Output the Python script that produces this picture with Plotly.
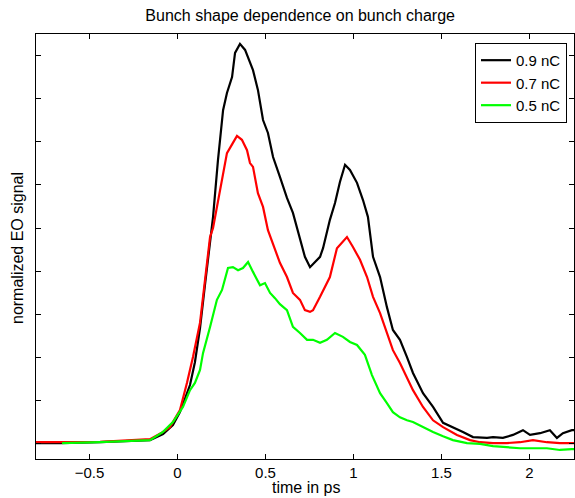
import plotly.graph_objects as go

# time axis (ps) and normalized EO signal for each bunch charge
t_09 = [-0.804, -0.668, -0.44, -0.27, -0.156, -0.082, -0.026, 0.014, 0.071, 0.099, 0.128, 0.156,
        0.185, 0.202, 0.23, 0.259, 0.281, 0.31, 0.327, 0.355, 0.384, 0.412, 0.429, 0.457, 0.486,
        0.514, 0.543, 0.582, 0.622, 0.656, 0.696, 0.724, 0.753, 0.77, 0.81, 0.827, 0.866, 0.895,
        0.923, 0.952, 0.98, 1.02, 1.054, 1.082, 1.111, 1.151, 1.19, 1.224, 1.264, 1.304, 1.338,
        1.395, 1.452, 1.509, 1.565, 1.622, 1.679, 1.759, 1.793, 1.849, 1.906, 1.963, 2.003, 2.06,
        2.116, 2.156, 2.19, 2.241, 2.26]
v_09 = [0.0, 0.0, 0.002, 0.004, 0.007, 0.021, 0.042, 0.072, 0.135, 0.188, 0.267, 0.367,
        0.472, 0.526, 0.658, 0.774, 0.814, 0.851, 0.907, 0.928, 0.914, 0.884, 0.867, 0.821, 0.751,
        0.721, 0.665, 0.619, 0.570, 0.535, 0.472, 0.433, 0.409, 0.416, 0.433, 0.453, 0.519, 0.558,
        0.607, 0.647, 0.635, 0.605, 0.565, 0.526, 0.433, 0.386, 0.316, 0.263, 0.240, 0.200, 0.163,
        0.116, 0.084, 0.047, 0.037, 0.026, 0.014, 0.012, 0.014, 0.012, 0.019, 0.030, 0.019, 0.023,
        0.030, 0.012, 0.023, 0.030, 0.030]

t_07 = [-0.804, -0.44, -0.156, -0.082, -0.043, 0.014, 0.054, 0.088, 0.128, 0.156, 0.185, 0.202,
        0.241, 0.281, 0.315, 0.338, 0.366, 0.395, 0.412, 0.429, 0.457, 0.486, 0.514, 0.582, 0.622,
        0.656, 0.696, 0.724, 0.753, 0.77, 0.81, 0.838, 0.866, 0.906, 0.935, 0.963, 0.997, 1.037,
        1.077, 1.111, 1.151, 1.19, 1.224, 1.264, 1.304, 1.338, 1.395, 1.452, 1.509, 1.588, 1.662,
        1.719, 1.793, 1.872, 1.946, 2.02, 2.099, 2.173, 2.241, 2.26]
v_07 = [0.002, 0.003, 0.009, 0.026, 0.037, 0.077, 0.140, 0.200, 0.280, 0.379, 0.479, 0.500,
        0.588, 0.674, 0.698, 0.714, 0.705, 0.681, 0.651, 0.642, 0.581, 0.549, 0.495, 0.419, 0.386,
        0.349, 0.333, 0.309, 0.305, 0.309, 0.340, 0.363, 0.386, 0.453, 0.465, 0.479, 0.456, 0.426,
        0.386, 0.340, 0.302, 0.256, 0.216, 0.186, 0.153, 0.123, 0.084, 0.053, 0.037, 0.019, 0.007,
        0.002, 0.0, 0.0, 0.002, 0.007, 0.002, 0.0, 0.0, 0.0]

t_05 = [-0.656, -0.44, -0.156, -0.082, -0.026, 0.031, 0.071, 0.099, 0.128, 0.145, 0.185, 0.224,
        0.253, 0.287, 0.315, 0.344, 0.372, 0.401, 0.429, 0.469, 0.497, 0.526, 0.554, 0.582, 0.622,
        0.656, 0.696, 0.736, 0.77, 0.81, 0.849, 0.895, 0.94, 0.98, 1.02, 1.065, 1.105, 1.151, 1.19,
        1.224, 1.264, 1.304, 1.338, 1.395, 1.452, 1.509, 1.565, 1.645, 1.719, 1.793, 1.872, 1.946,
        2.099, 2.173, 2.241, 2.26]
v_05 = [0.0, 0.002, 0.007, 0.026, 0.049, 0.084, 0.123, 0.140, 0.170, 0.209, 0.270, 0.333,
        0.356, 0.407, 0.409, 0.402, 0.407, 0.421, 0.398, 0.367, 0.372, 0.349, 0.337, 0.323, 0.309,
        0.270, 0.256, 0.240, 0.240, 0.233, 0.240, 0.256, 0.247, 0.235, 0.228, 0.205, 0.158, 0.116,
        0.093, 0.072, 0.060, 0.053, 0.049, 0.037, 0.026, 0.016, 0.007, 0.0, -0.002, -0.007, -0.009,
        -0.012, -0.012, -0.016, -0.014, -0.014]

series_names = ["0.9 nC", "0.7 nC", "0.5 nC"]
series_colors = ["#000000", "#ff0000", "#00ff00"]
x_tickvals = [-0.5, 0, 0.5, 1, 1.5, 2]
x_ticktext = ["\u22120.5", "0", "0.5", "1", "1.5", "2"]
y_tickvals = [0, 0.1, 0.2, 0.3, 0.4, 0.5, 0.6, 0.7, 0.8, 0.9]

FONT = "Liberation Sans, Arial, Helvetica, sans-serif"

fig = go.Figure()
for (tx, vy), name, col in zip([(t_09, v_09), (t_07, v_07), (t_05, v_05)], series_names, series_colors):
    fig.add_trace(go.Scatter(x=tx, y=vy, mode="lines", name=name,
                             line=dict(color=col, width=2.2)))

axis_common = dict(showgrid=False, zeroline=False, showline=True, linecolor="black",
                   linewidth=1, mirror="ticks", ticks="inside", ticklen=5,
                   tickcolor="black", tickwidth=1)

fig.update_layout(
    width=575, height=498,
    margin=dict(l=36, r=1, t=34, b=39),
    paper_bgcolor="white", plot_bgcolor="white",
    font=dict(family=FONT, size=15, color="black"),
    title=dict(text="Bunch shape dependence on bunch charge", x=0.522, xanchor="center",
               y=1 - 15 / 498, yanchor="middle", font=dict(size=16, family=FONT)),
    xaxis=dict(range=[-0.804, 2.253], tickvals=x_tickvals, ticktext=x_ticktext,
               tickfont=dict(size=15), **axis_common),
    yaxis=dict(range=[-0.037, 0.951], tickvals=y_tickvals, showticklabels=False,
               **axis_common),
    legend=dict(x=0.987, y=0.979, xanchor="right", yanchor="top", bgcolor="white",
                bordercolor="black", borderwidth=1, font=dict(size=15, family=FONT),
                tracegroupgap=0, itemwidth=30),
    showlegend=True,
    annotations=[
        dict(text="time in ps", xref="paper", yref="paper", x=(306 - 36) / 538,
             y=-(487 - 459) / 425, xanchor="center", yanchor="middle", showarrow=False,
             font=dict(size=16, family=FONT)),
        dict(text="normalized EO signal", xref="paper", yref="paper", x=-(36 - 17) / 538,
             y=(459 - 248) / 425, xanchor="center", yanchor="middle", showarrow=False,
             textangle=-90, font=dict(size=16, family=FONT)),
    ],
)

fig.write_html("out.html", config={"displayModeBar": False},
               post_script="document.body.style.margin='0';document.body.style.overflow='hidden';")
